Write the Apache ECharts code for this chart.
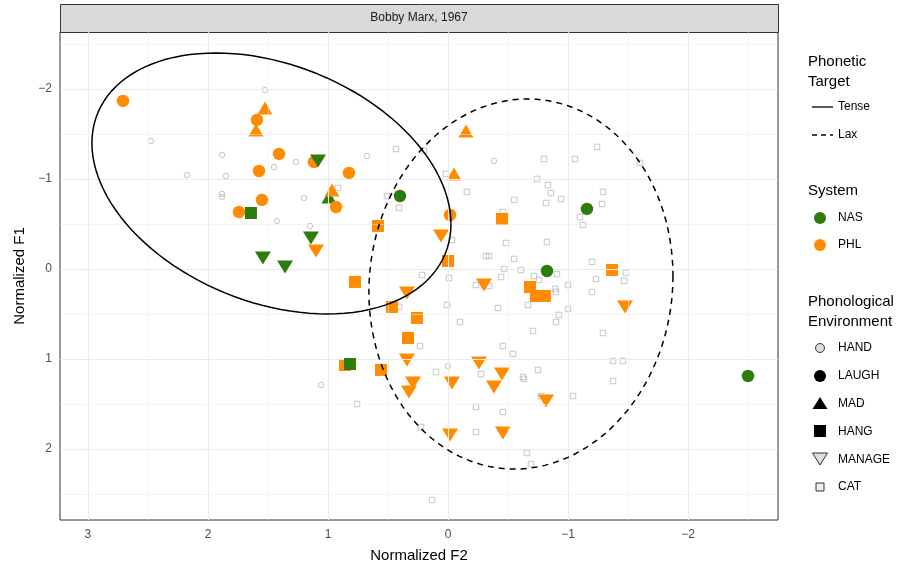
<!DOCTYPE html>
<html>
<head>
<meta charset="utf-8">
<script src="https://cdn.jsdelivr.net/npm/echarts@6/dist/echarts.min.js"></script>
<style>
  html, body { margin: 0; padding: 0; background: #fff; }
  #chart { width: 911px; height: 569px; }
</style>
</head>
<body>
<div id="chart"></div>
<script>
// axis ticks
const xTicks = [3, 2, 1, 0, -1, -2];
const xMinor = [2.5, 1.5, 0.5, -0.5, -1.5, -2.5];
const yTicks = [-2, -1, 0, 1, 2];
const yMinor = [-2.5, -1.5, -0.5, 0.5, 1.5, 2.5];

// [F2, F1] pairs
const phlLaugh = [[2.708, -1.867], [1.592, -1.656], [1.408, -1.278], [1.575, -1.089], [1.117, -1.189],
  [0.825, -1.067], [1.55, -0.767], [1.742, -0.633], [0.933, -0.689], [-0.017, -0.6]];
const nasLaugh = [[0.4, -0.811], [-1.158, -0.667], [-0.825, 0.022], [-2.5, 1.189]];
const phlMad = [[1.525, -1.789], [1.6, -1.544], [-0.15, -1.533], [-0.05, -1.056], [0.967, -0.878]];
const nasMad = [[0.992, -0.8]];
const phlHang = [[0.583, -0.478], [-0.45, -0.556], [0.0, -0.089], [0.775, 0.144], [0.467, 0.422],
  [0.258, 0.544], [0.333, 0.767], [-1.367, 0.011], [-0.683, 0.2], [-0.733, 0.3], [-0.808, 0.3],
  [0.858, 1.067], [0.558, 1.122]];
const nasHang = [[1.642, -0.622], [0.817, 1.056]];
const phlManage = [[1.1, -0.2], [0.058, -0.367], [-0.3, 0.178], [0.342, 0.267], [-1.475, 0.422],
  [0.342, 1.011], [0.292, 1.267], [0.325, 1.367], [-0.033, 1.267], [-0.258, 1.044], [-0.45, 1.167],
  [-0.383, 1.311], [-0.817, 1.467], [-0.017, 1.844], [-0.458, 1.822]];
const nasManage = [[1.083, -1.2], [1.142, -0.344], [1.542, -0.122], [1.358, -0.022]];
const handTokens = [[1.525, -1.989], [2.475, -1.422], [1.883, -1.267], [1.45, -1.133], [1.267, -1.189],
  [2.175, -1.044], [1.85, -1.033], [1.883, -0.833], [1.883, -0.8], [1.2, -0.789], [0.675, -1.256],
  [-0.383, -1.2], [1.425, -0.533], [1.15, -0.478], [1.058, 1.289], [0.0, 1.078]];
const catTokens = [[0.433, -1.333], [0.2, -1.311], [0.017, -1.056], [-0.158, -0.856], [0.508, -0.811],
  [0.917, -0.9], [-0.55, -0.767], [-0.8, -1.222], [-0.742, -1.0], [-0.833, -0.933], [-0.858, -0.844],
  [-1.058, -1.222], [-1.242, -1.356], [-1.6, -1.178], [-0.942, -0.778], [-1.292, -0.856], [-0.817, -0.733],
  [-1.283, -0.722], [-0.458, -0.633], [-1.1, -0.578], [-1.125, -0.489], [-0.033, -0.322], [-0.483, -0.289],
  [-0.825, -0.3], [-0.317, -0.144], [-0.342, -0.144], [-0.55, -0.111], [-1.2, -0.078], [-0.467, 0.0],
  [-0.608, 0.011], [-0.008, 0.1], [-0.442, 0.089], [-0.717, 0.078], [-0.908, 0.056], [-1.233, 0.111],
  [0.408, -0.678], [0.217, 0.067], [-0.233, 0.178], [-0.342, 0.189], [-0.758, 0.122], [0.408, 0.422],
  [0.008, 0.4], [-0.417, 0.433], [-0.667, 0.4], [-0.1, 0.589], [-0.708, 0.689], [0.233, 0.856],
  [-0.458, 0.856], [-0.542, 0.944], [-1.483, 0.044], [-1.467, 0.133], [-1.0, 0.178], [-0.892, 0.222],
  [-0.9, 0.256], [-1.2, 0.256], [-1.0, 0.444], [-0.925, 0.511], [-0.9, 0.589], [-1.292, 0.711],
  [-1.375, 1.022], [-1.458, 1.022], [-1.375, 1.244], [-1.042, 1.411], [-0.775, 1.411], [-0.275, 1.167],
  [-0.625, 1.2], [-0.633, 1.222], [-0.75, 1.122], [-0.233, 1.533], [-0.458, 1.589], [0.1, 1.144],
  [0.758, 1.5], [0.225, 1.756], [-0.233, 1.811], [-0.658, 2.044], [-0.692, 2.167], [0.133, 2.567]];

// ellipse parameters: center F2, center F1, F2 radius, F1 radius, phase
const tenseEllipse = [1.471, -0.95, 1.496, 1.45, 1.256];
const laxEllipse = [-0.608, 0.167, 1.267, 2.056, 1.614];

const orange = '#ff8c00';
const green = '#2e7d0c';
const gray = '#b8b8b8';

function ellipsePoints(p) {
  const pts = [];
  for (let i = 0; i <= 120; i++) {
    const t = (i / 120) * 2 * Math.PI;
    pts.push([p[0] - p[2] * Math.cos(t), p[1] + p[3] * Math.cos(t - p[4])]);
  }
  return pts;
}

const fmt = v => (v < 0 ? '\u2212' + Math.abs(v) : String(v));
const gridLines = [];
xTicks.forEach(v => gridLines.push({ xAxis: v, lineStyle: { width: 1.1 } }));
xMinor.forEach(v => gridLines.push({ xAxis: v, lineStyle: { width: 0.55 } }));
yTicks.forEach(v => gridLines.push({ yAxis: v, lineStyle: { width: 1.1 } }));
yMinor.forEach(v => gridLines.push({ yAxis: v, lineStyle: { width: 0.55 } }));

function pts(name, data, symbol, size, color, rotate, z) {
  return {
    name: name, type: 'scatter', data: data, symbol: symbol, symbolSize: size,
    symbolRotate: rotate || 0, z: z || 3, silent: true,
    itemStyle: { color: color, opacity: 1 }
  };
}
function hollow(name, data, symbol) {
  return {
    name: name, type: 'scatter', data: data, symbol: symbol, symbolSize: 5.5, z: 2, silent: true,
    itemStyle: { color: 'rgba(0,0,0,0)', borderColor: gray, borderWidth: 1 }
  };
}

const chart = echarts.init(document.getElementById('chart'));
const font = 'Liberation Sans, Arial, sans-serif';

const legendTexts = [];
function txt(x, y, s, size) {
  legendTexts.push({ type: 'text', left: x, top: y, silent: true,
    style: { text: s, fontSize: size, fill: '#000', fontFamily: font } });
}
txt(808, 54, 'Phonetic', 15);
txt(808, 74, 'Target', 15);
txt(838, 101, 'Tense', 12);
txt(838, 129, 'Lax', 12);
txt(808, 183, 'System', 15);
txt(838, 212, 'NAS', 12);
txt(838, 239, 'PHL', 12);
txt(808, 294, 'Phonological', 15);
txt(808, 314, 'Environment', 15);
const envNames = ['HAND', 'LAUGH', 'MAD', 'HANG', 'MANAGE', 'CAT'];
envNames.forEach((s, i) => txt(838, 342 + i * 27.8, s, 12));

const keyShapes = [
  { type: 'line', shape: { x1: 812, y1: 107, x2: 833, y2: 107 }, style: { stroke: '#000', lineWidth: 1.3 } },
  { type: 'line', shape: { x1: 812, y1: 135, x2: 833, y2: 135 }, style: { stroke: '#000', lineWidth: 1.3, lineDash: [5, 4] } },
  { type: 'circle', shape: { cx: 820, cy: 218, r: 6 }, style: { fill: green } },
  { type: 'circle', shape: { cx: 820, cy: 245, r: 6 }, style: { fill: orange } },
  { type: 'circle', shape: { cx: 820, cy: 348, r: 4.5 }, style: { fill: '#ddd', stroke: '#333', lineWidth: 1 } },
  { type: 'circle', shape: { cx: 820, cy: 376, r: 6 }, style: { fill: '#000' } },
  { type: 'polygon', shape: { points: [[820, 397], [827.5, 409], [812.5, 409]] }, style: { fill: '#000' } },
  { type: 'rect', shape: { x: 814, y: 425, width: 12, height: 12 }, style: { fill: '#000' } },
  { type: 'polygon', shape: { points: [[812.5, 453], [827.5, 453], [820, 465]] }, style: { fill: '#ddd', stroke: '#333', lineWidth: 1 } },
  { type: 'rect', shape: { x: 816, y: 483, width: 8, height: 8 }, style: { fill: '#eee', stroke: '#333', lineWidth: 1 } }
].map(g => Object.assign({ silent: true }, g));

const option = {
  animation: false,
  backgroundColor: '#fff',
  textStyle: { fontFamily: font },
  grid: { left: 60, right: 133, top: 32, bottom: 49, show: true, borderColor: '#333', borderWidth: 1, backgroundColor: '#fff' },
  xAxis: {
    type: 'value', inverse: true, min: -2.75, max: 3.233,
    name: 'Normalized F2', nameLocation: 'middle', nameGap: 28,
    nameTextStyle: { fontSize: 15, color: '#000', fontFamily: font },
    axisLine: { show: false },
    axisTick: { show: true, customValues: xTicks, length: 4, lineStyle: { color: '#333' } },
    axisLabel: { customValues: xTicks, formatter: fmt, fontSize: 12, color: '#4d4d4d', margin: 9, fontFamily: font },
    splitLine: { show: false }
  },
  yAxis: {
    type: 'value', inverse: true, min: -2.633, max: 2.789,
    name: 'Normalized F1', nameLocation: 'middle', nameGap: 32, nameRotate: 90,
    nameTextStyle: { fontSize: 15, color: '#000', fontFamily: font },
    axisLine: { show: false },
    axisTick: { show: true, customValues: yTicks, length: 4, lineStyle: { color: '#333' } },
    axisLabel: { customValues: yTicks, formatter: fmt, fontSize: 12, color: '#4d4d4d', margin: 8, fontFamily: font },
    splitLine: { show: false }
  },
  graphic: [
    { type: 'rect', left: 60, top: 4, shape: { width: 718, height: 28 }, silent: true,
      style: { fill: '#d9d9d9', stroke: '#333', lineWidth: 1 } },
    { type: 'text', x: 419, y: 18, silent: true,
      style: { text: 'Bobby Marx, 1967', fontSize: 12, fill: '#1a1a1a', fontFamily: font, align: 'center', verticalAlign: 'middle' } }
  ].concat(legendTexts, keyShapes),
  series: [
    {
      name: 'grid', type: 'scatter', data: [], z: 1, silent: true,
      markLine: { silent: true, symbol: 'none', label: { show: false }, animation: false,
        lineStyle: { color: '#ebebeb', type: 'solid' }, data: gridLines }
    },
    hollow('CAT', catTokens, 'rect'),
    hollow('HAND', handTokens, 'circle'),
    pts('NAS MAD', nasMad, 'triangle', [15, 13], green, 0, 3),
    pts('PHL LAUGH', phlLaugh, 'circle', 12.5, orange, 0, 4),
    pts('PHL MAD', phlMad, 'triangle', [15, 13], orange, 0, 4),
    pts('PHL HANG', phlHang, 'rect', 12, orange, 0, 4),
    pts('PHL MANAGE', phlManage, 'triangle', [16, 13], orange, 180, 4),
    pts('NAS LAUGH', nasLaugh, 'circle', 12.5, green, 0, 5),
    pts('NAS HANG', nasHang, 'rect', 12, green, 0, 5),
    pts('NAS MANAGE', nasManage, 'triangle', [16, 13], green, 180, 5),
    {
      name: 'Tense', type: 'line', data: ellipsePoints(tenseEllipse), showSymbol: false, z: 6, silent: true,
      lineStyle: { color: '#000', width: 1.5 }
    },
    {
      name: 'Lax', type: 'line', data: ellipsePoints(laxEllipse), showSymbol: false, z: 6, silent: true,
      lineStyle: { color: '#000', width: 1.5, type: [6, 5] }
    }
  ]
};
chart.setOption(option);
</script>
</body>
</html>
